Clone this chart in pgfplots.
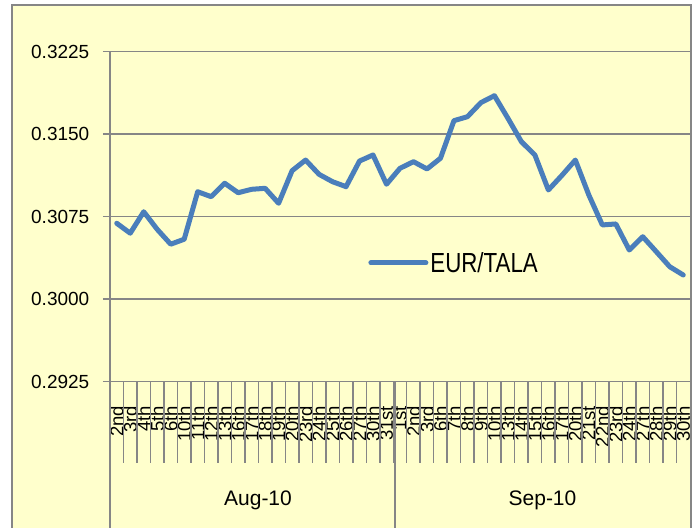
\documentclass[border=0pt]{standalone}
\usepackage{pgfplots}
\pgfplotsset{compat=1.18}
\usepackage{fontspec}
\setmainfont{Liberation Sans}
\definecolor{bgy}{RGB}{255,255,204}
\definecolor{gridg}{RGB}{134,134,134}
\definecolor{lineb}{RGB}{74,126,187}
\pgfplotstableread{
x y
0.5 0.3069
1.5 0.3060
2.5 0.30795
3.5 0.30635
4.5 0.3050
5.5 0.30545
6.5 0.30977
7.5 0.30932
8.5 0.31054
9.5 0.30968
10.5 0.30999
11.5 0.31008
12.5 0.30872
13.5 0.31168
14.5 0.31265
15.5 0.31135
16.5 0.31068
17.5 0.31023
18.5 0.31256
19.5 0.31311
20.5 0.31045
21.5 0.3119
22.5 0.3125
23.5 0.31184
24.5 0.31281
25.5 0.31623
26.5 0.31659
27.5 0.31787
28.5 0.3185
29.5 0.31645
30.5 0.31432
31.5 0.31311
32.5 0.30993
33.5 0.31125
34.5 0.31265
35.5 0.30947
36.5 0.30675
37.5 0.30684
38.5 0.30447
39.5 0.30568
40.5 0.30432
41.5 0.30295
42.5 0.3022
}\eurtala
\begin{document}
\begin{tikzpicture}
\fill[white] (0pt,0pt) rectangle (697pt,528pt);
\fill[bgy] (12pt,0pt) rectangle (691pt,523pt);
\begin{axis}[
  at={(110pt,146.3pt)}, anchor=south west,
  scale only axis, width=580pt, height=330pt,
  xmin=0, xmax=43, ymin=0.2925, ymax=0.3225,
  clip=false,
  axis line style={draw=none},
  scaled y ticks=false,
  ytick={0.2925,0.3,0.3075,0.315,0.3225},
  ytick pos=left, ytick align=outside, xtick align=inside,
  major tick length=7pt,
  ytick style={gridg, line width=1.5pt},
  xtick style={draw=none},
  ymajorgrids, major grid style={gridg, line width=1.5pt},
  /pgf/number format/assume math mode=true,
  yticklabel style={/pgf/number format/fixed, /pgf/number format/fixed zerofill, /pgf/number format/precision=4, font=\fontsize{19}{19}\selectfont, inner sep=0pt, anchor=east},
  yticklabel shift=13.5pt,
  xtick={0.5,1.5,...,42.5},
  xticklabels={2nd,3rd,4th,5th,6th,10th,11th,12th,13th,16th,17th,18th,19th,20th,23rd,24th,25th,26th,27th,30th,31st,1st,2nd,3rd,6th,7th,8th,9th,10th,13th,14th,15th,16th,17th,20th,21st,22nd,23rd,24th,27th,28th,29th,30th},
  xticklabel style={rotate=90, anchor=east, inner sep=0pt, font=\fontsize{18.5}{18.5}\selectfont},
  xticklabel shift=24pt,
  legend style={at={(0.44,0.36)}, anchor=west, draw=none, fill=none, font=\fontsize{23}{23}\selectfont},
  legend image code/.code={\draw[#1, line cap=round] (0pt,0pt) -- (55pt,0pt);},
]
\pgfplotsinvokeforeach{1,...,42}{\draw[gridg, line width=1.5pt] (axis cs:#1,0.2925) -- ++(0pt,-81.3pt);}
\addplot[lineb, line width=5pt, line join=round, line cap=round] table[x=x,y=y] {\eurtala};
\addlegendentry{\scalebox{0.97}[1.2]{EUR/TALA}}
\end{axis}
\draw[gridg, line width=1.5pt] (110pt,0pt) -- (110pt,476.3pt);
\draw[gridg, line width=1.5pt] (395pt,0pt) -- (395pt,146.3pt);
\draw[gridg, line width=2pt] (12pt,0pt) -- (12pt,523pt) -- (691pt,523pt) -- (691pt,0pt);
\node[font=\fontsize{21}{21}\selectfont] at (258pt,28pt) {Aug-10};
\node[font=\fontsize{21}{21}\selectfont] at (542.5pt,28pt) {Sep-10};
\end{tikzpicture}
\end{document}
